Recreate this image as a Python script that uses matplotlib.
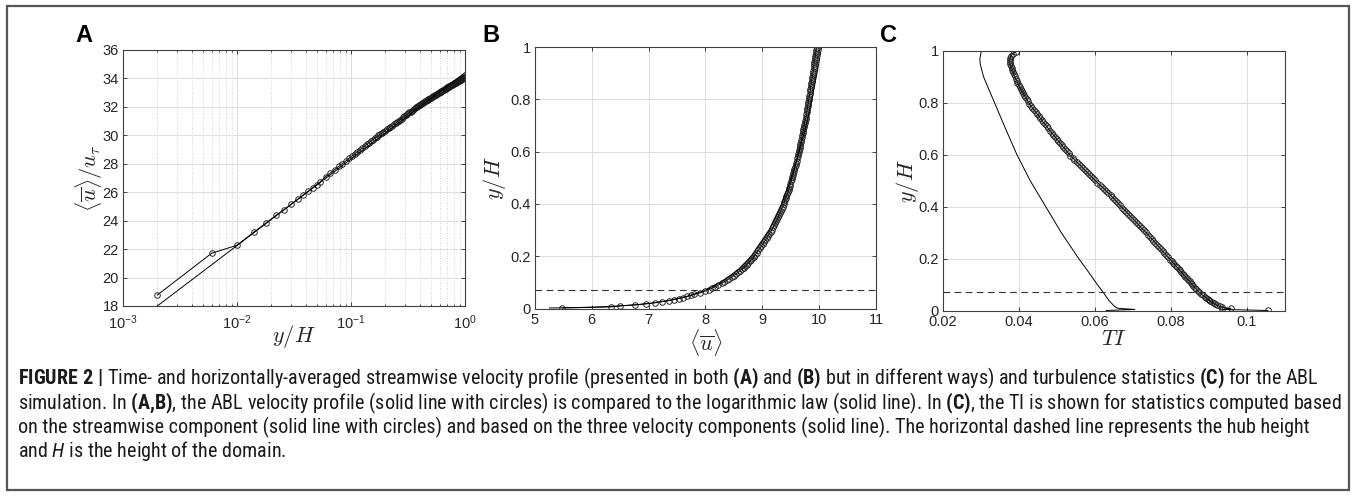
import numpy as np
import matplotlib.pyplot as plt
from matplotlib import font_manager
from matplotlib.patches import Rectangle

# -------------------------------
# Data
# wall-normal positions of the ABL profile samples
y_H = [0.002, 0.006, 0.010, 0.014, 0.018, 0.022, 0.026, 0.030, 0.034, 0.038, 0.042, 0.046, 0.050, 0.054,
       0.060, 0.066, 0.072, 0.078, 0.084, 0.090, 0.096, 0.102, 0.108, 0.114, 0.120, 0.126,
       0.132, 0.138, 0.144, 0.150, 0.156, 0.162, 0.168, 0.174, 0.180, 0.186, 0.192, 0.198,
       0.206, 0.214, 0.222, 0.230, 0.238, 0.246,
       0.254, 0.262, 0.270, 0.278, 0.286, 0.294,
       0.302, 0.310, 0.318, 0.326, 0.334, 0.342, 0.350,
       0.358, 0.366, 0.374, 0.382, 0.390, 0.398,
       0.406, 0.414, 0.422, 0.430, 0.438, 0.446,
       0.454, 0.462, 0.470, 0.478, 0.486, 0.494,
       0.502, 0.510, 0.518, 0.526, 0.534, 0.542, 0.550,
       0.558, 0.566, 0.574, 0.582, 0.590, 0.598,
       0.606, 0.614, 0.622, 0.630, 0.638, 0.646,
       0.654, 0.662, 0.670, 0.678, 0.686, 0.694,
       0.702, 0.710, 0.718, 0.726, 0.734, 0.742,
       0.750, 0.758, 0.766, 0.774, 0.782, 0.790, 0.798,
       0.806, 0.814, 0.822, 0.830, 0.838, 0.846,
       0.854, 0.862, 0.870, 0.878, 0.886, 0.894,
       0.902, 0.910, 0.918, 0.926, 0.934, 0.942,
       0.950, 0.958, 0.966, 0.974, 0.982, 0.990, 0.998]

# <u>/u_tau at those heights (panel A)
u_plus = [18.77, 21.71, 22.27, 23.18, 23.84, 24.38, 24.78, 25.18, 25.50, 25.80, 26.06, 26.30, 26.53, 26.74,
          27.10, 27.35, 27.59, 27.81, 28.01, 28.19, 28.38, 28.54, 28.69, 28.85, 28.98, 29.12,
          29.25, 29.37, 29.48, 29.59, 29.70, 29.80, 29.89, 29.99, 30.07, 30.16, 30.24, 30.32,
          30.42, 30.50, 30.59, 30.68, 30.77, 30.86,
          30.94, 31.02, 31.10, 31.18, 31.26, 31.34,
          31.42, 31.48, 31.54, 31.61, 31.67, 31.74, 31.80,
          31.85, 31.91, 31.96, 32.01, 32.06, 32.12,
          32.16, 32.21, 32.25, 32.29, 32.34, 32.38,
          32.42, 32.46, 32.49, 32.53, 32.57, 32.60,
          32.64, 32.67, 32.71, 32.74, 32.77, 32.81, 32.84,
          32.87, 32.90, 32.93, 32.96, 32.99, 33.02,
          33.05, 33.08, 33.10, 33.13, 33.16, 33.19,
          33.21, 33.24, 33.26, 33.29, 33.31, 33.34,
          33.37, 33.39, 33.41, 33.44, 33.46, 33.49,
          33.51, 33.53, 33.55, 33.57, 33.59, 33.61, 33.63,
          33.65, 33.67, 33.69, 33.71, 33.73, 33.75,
          33.77, 33.79, 33.81, 33.83, 33.85, 33.87,
          33.88, 33.90, 33.92, 33.94, 33.96, 33.97,
          33.99, 34.01, 34.03, 34.05, 34.06, 34.08, 34.10]

u_tau = 0.2919  # friction velocity linking panels A and B

# logarithmic law (solid line)
y_log = [0.002, 0.004, 0.006, 0.01, 0.015, 0.02, 0.03, 0.05, 0.07, 0.1,
         0.15, 0.2, 0.3, 0.4, 0.5, 0.6, 0.7, 0.8, 0.9, 1.0]
u_log_plus = [18.00, 19.83, 20.90, 22.25, 23.32, 24.08, 25.15, 26.50, 27.39, 28.33,
              29.40, 30.16, 31.23, 31.99, 32.58, 33.06, 33.47, 33.82, 34.13, 34.41]

# turbulence intensity from streamwise component (circles), same heights as y_H
ti_u = [0.1055, 0.0935, 0.0958, 0.0935, 0.0928, 0.0922, 0.0917, 0.0912, 0.0908, 0.0904, 0.0900, 0.0897, 0.0893, 0.0890,
        0.0884, 0.0879, 0.0874, 0.0870, 0.0867, 0.0863, 0.0859, 0.0856, 0.0852, 0.0849, 0.0845, 0.0841,
        0.0838, 0.0834, 0.0831, 0.0827, 0.0823, 0.0820, 0.0816, 0.0813, 0.0809, 0.0805, 0.0802, 0.0798,
        0.0793, 0.0788, 0.0783, 0.0778, 0.0773, 0.0769,
        0.0764, 0.0759, 0.0754, 0.0749, 0.0744, 0.0739,
        0.0734, 0.0729, 0.0723, 0.0718, 0.0713, 0.0708, 0.0703,
        0.0698, 0.0692, 0.0687, 0.0682, 0.0677, 0.0671,
        0.0666, 0.0661, 0.0656, 0.0651, 0.0646, 0.0641,
        0.0635, 0.0629, 0.0624, 0.0618, 0.0612, 0.0606,
        0.0601, 0.0595, 0.0590, 0.0584, 0.0579, 0.0573, 0.0568,
        0.0563, 0.0557, 0.0552, 0.0546, 0.0541, 0.0535,
        0.0531, 0.0526, 0.0522, 0.0517, 0.0513, 0.0508,
        0.0504, 0.0499, 0.0495, 0.0490, 0.0486, 0.0481,
        0.0477, 0.0473, 0.0469, 0.0464, 0.0460, 0.0456,
        0.0452, 0.0448, 0.0444, 0.0439, 0.0435, 0.0431, 0.0427,
        0.0424, 0.0421, 0.0417, 0.0414, 0.0411, 0.0408,
        0.0405, 0.0402, 0.0399, 0.0396, 0.0394, 0.0391,
        0.0389, 0.0387, 0.0385, 0.0383, 0.0381, 0.0379,
        0.0377, 0.0376, 0.0376, 0.0377, 0.0379, 0.0384, 0.0392]

# turbulence intensity from three velocity components (solid line)
y_ti3 = [0.002, 0.006, 0.010, 0.014, 0.02, 0.04, 0.073, 0.1, 0.15, 0.2,
         0.3, 0.4, 0.5, 0.6, 0.7, 0.8, 0.9, 0.95, 0.97, 1.0]
ti_3 = [0.0630, 0.0705, 0.0662, 0.0655, 0.0650, 0.0637, 0.0621, 0.0607, 0.0583, 0.0558,
        0.0512, 0.0471, 0.0430, 0.0395, 0.0365, 0.0336, 0.0307, 0.0298, 0.0297, 0.0301]

hub_height = 0.072

u_abl = [v * u_tau for v in u_plus]
u_log = [v * u_tau for v in u_log_plus]

# -------------------------------
# caption font: a condensed sans if one is installed
names = {f.name for f in font_manager.fontManager.ttflist}
cap_font = 'Roboto'
for cand in ['Roboto Condensed', 'Archivo Narrow', 'Liberation Sans Narrow']:
    if cand in names:
        cap_font = cand
        break

plt.rcParams['font.family'] = ['Liberation Sans', 'DejaVu Sans']
plt.rcParams['mathtext.fontset'] = 'custom'
plt.rcParams['mathtext.rm'] = 'Liberation Sans'
plt.rcParams['mathtext.bf'] = cap_font + ':bold'
plt.rcParams['mathtext.it'] = cap_font + ':italic'

ink = '#262626'
grid_c = '#dedede'

fig = plt.figure(figsize=(13.56, 4.96), dpi=100)

axA = fig.add_axes([0.0907, 0.3831, 0.2522, 0.5161])
axB = fig.add_axes([0.3945, 0.3780, 0.2515, 0.5272])
axC = fig.add_axes([0.6954, 0.3730, 0.2522, 0.5242])


def style(ax):
    ax.set_axisbelow(True)
    for s in ax.spines.values():
        s.set_color('#404040')
        s.set_linewidth(0.8)
    ax.tick_params(which='both', direction='in', top=True, right=True,
                   colors=ink, labelsize=10.5, pad=3, width=0.6)
    ax.tick_params(which='major', length=3)
    ax.tick_params(which='minor', length=1.6)
    ax.grid(True, which='major', color=grid_c, lw=0.7, ls='-')


circ = dict(color='black', lw=0.7, marker='o', ms=4.0, mfc='none', mec='#1a1a1a', mew=0.65)
lab = dict(fontsize=16, math_fontfamily='cm', color=ink)

# Panel A
axA.plot(y_H, u_plus, **circ)
axA.plot(y_log, u_log_plus, color='black', lw=0.7)
axA.set_xscale('log')
axA.set_xlim(1e-3, 1)
axA.set_ylim(18, 36)
axA.set_yticks(range(18, 37, 2))
axA.set_xticks([1e-3, 1e-2, 1e-1, 1])
axA.set_xticklabels([r'$10^{-3}$', r'$10^{-2}$', r'$10^{-1}$', r'$10^{0}$'])
style(axA)
axA.tick_params(axis='x', pad=5)
axA.grid(True, which='minor', color='#c4c4c4', lw=0.6, ls=(0, (1, 2)))
axA.set_xlabel(r'$y/H$', labelpad=-6, **lab)
axA.set_ylabel(r'$\langle\overline{u}\rangle/u_\tau$', labelpad=-2, **lab)

# Panel B
axB.plot(u_abl, y_H, **circ)
axB.plot(u_log, y_log, color='black', lw=0.7)
axB.axhline(hub_height, color='#333333', lw=0.8, ls=(0, (6, 4)))
axB.set_xlim(5, 11)
axB.set_ylim(0, 1)
axB.set_xticks(range(5, 12))
axB.set_yticks([0, 0.2, 0.4, 0.6, 0.8, 1])
axB.set_yticklabels(['0', '0.2', '0.4', '0.6', '0.8', '1'])
style(axB)
axB.set_xlabel(r'$\langle\overline{u}\rangle$', labelpad=0, **lab)
axB.set_ylabel(r'$y/H$', labelpad=2, **lab)

# Panel C
axC.plot(ti_u, y_H, **circ)
axC.plot(ti_3, y_ti3, color='black', lw=0.7)
axC.axhline(hub_height, color='#333333', lw=0.8, ls=(0, (6, 4)))
axC.set_xlim(0.02, 0.11)
axC.set_ylim(0, 1)
axC.set_xticks([0.02, 0.04, 0.06, 0.08, 0.1])
axC.set_xticklabels(['0.02', '0.04', '0.06', '0.08', '0.1'])
axC.set_yticks([0, 0.2, 0.4, 0.6, 0.8, 1])
axC.set_yticklabels(['0', '0.2', '0.4', '0.6', '0.8', '1'])
style(axC)
axC.set_xlabel(r'$TI$', labelpad=0, **lab)
axC.set_ylabel(r'$y/H$', labelpad=-2, **lab)

# panel letters
for x, s in [(75, 'A'), (482, 'B'), (880, 'C')]:
    fig.text(x / 1356, 1 - 42 / 496, s, fontsize=17, fontweight='bold', color='black', va='baseline')

# outer frame
fig.patches.append(Rectangle((7 / 1356, 6 / 496), 1342 / 1356, 484 / 496, transform=fig.transFigure,
                             fill=False, ec='#555555', lw=1.6))

# caption
cap_lines = [
    r'$\mathbf{FIGURE\ 2\ |}$ Time- and horizontally-averaged streamwise velocity profile (presented in both '
    r'$\mathbf{(A)}$ and $\mathbf{(B)}$ but in different ways) and turbulence statistics $\mathbf{(C)}$ for the ABL',
    r'simulation. In $\mathbf{(A{,}B)}$, the ABL velocity profile (solid line with circles) is compared to the '
    r'logarithmic law (solid line). In $\mathbf{(C)}$, the TI is shown for statistics computed based',
    'on the streamwise component (solid line with circles) and based on the three velocity components '
    '(solid line). The horizontal dashed line represents the hub height',
    r'and $\mathit{H}$ is the height of the domain.',
]
cap_y = [384, 409, 433, 457]
texts = []
for s, yy in zip(cap_lines, cap_y):
    texts.append(fig.text(18 / 1356, 1 - yy / 496, s, fontsize=13, family=cap_font,
                          color='#1a1a1a', va='baseline'))

# scale caption so the widest line fits the box
r = fig.canvas.get_renderer()
w = max(t.get_window_extent(r).width for t in texts[:2])
fs = 13 * 1322 / w
for t in texts:
    t.set_fontsize(fs)

fig.savefig('out.png', dpi=100)
